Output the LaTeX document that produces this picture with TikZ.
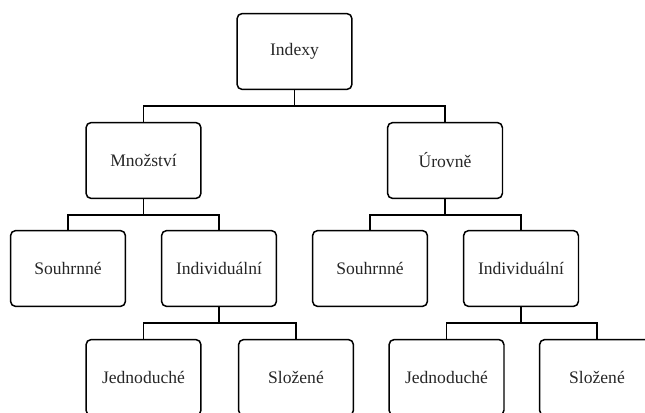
\documentclass[tikz,border=0pt]{standalone}
\usepackage{fontspec}
\setmainfont{Liberation Serif}
\usepackage{tikz}

\begin{document}
\begin{tikzpicture}[x=0.02cm, y=-0.02cm,
    box/.style={draw, line width=0.85pt, rounded corners=3pt, minimum width=2.3cm,
      minimum height=1.52cm, font=\fontsize{10}{12}\selectfont, text=black!85}]
  \clip (0,0) rectangle (645,412);
  \node[box] (indexy) at (294.5,51.5) {Indexy};
  \node[box] (mnozstvi) at (143.5,160.5) {Množství};
  \node[box] (urovne) at (445,160.5) {Úrovně};
  \node[box] (souhrnA) at (68,268.5) {Souhrnné};
  \node[box] (indivA) at (219,268.5) {Individuální};
  \node[box] (souhrnB) at (370,268.5) {Souhrnné};
  \node[box] (indivB) at (521,268.5) {Individuální};
  \node[box] (jednA) at (143.5,377.5) {Jednoduché};
  \node[box] (slozA) at (296,377.5) {Složené};
  \node[box] (jednB) at (446.5,377.5) {Jednoduché};
  \node[box] (slozB) at (597,377.5) {Složené};
  \foreach \p/\a/\b in {indexy/mnozstvi/urovne, mnozstvi/souhrnA/indivA,
      urovne/souhrnB/indivB, indivA/jednA/slozA, indivB/jednB/slozB} {
    \draw[line width=0.85pt] (\p.south) -- ++(0,16) -| (\a.north);
    \draw[line width=0.85pt] (\p.south) -- ++(0,16) -| (\b.north);
  }
\end{tikzpicture}
\end{document}
